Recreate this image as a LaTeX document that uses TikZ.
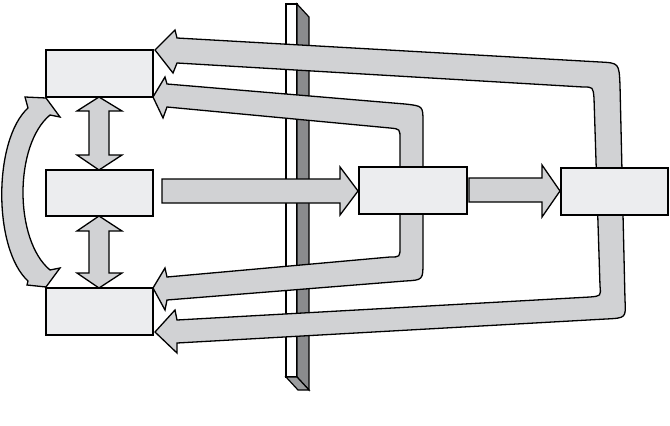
\documentclass[tikz,border=0pt]{standalone}
\begin{document}
\begin{tikzpicture}[x=1pt,y=-1pt,
  box/.style={draw=black,line width=1.8pt,fill=boxfill,inner sep=0pt,outer sep=0pt,minimum width=107pt,minimum height=47pt},
  band/.style={draw=black,line width=1.3pt,fill=arrowfill,line join=miter},
  plateline/.style={draw=black,line width=1.2pt,line join=miter}]
\definecolor{boxfill}{HTML}{ECEDEF}
\definecolor{arrowfill}{HTML}{D1D2D4}
\definecolor{plateside}{HTML}{8A8B8D}
\definecolor{platebottom}{HTML}{9C9D9F}
\useasboundingbox (0,0) rectangle (670,426);

% plate
\filldraw[plateline,fill=white] (286,4) rectangle (297,377);
\filldraw[plateline,fill=plateside] (297,4) -- (309,17) -- (309,390) -- (297,377) -- cycle;
\filldraw[plateline,fill=platebottom] (286,377) -- (297,377) -- (309,390) -- (298,390) -- cycle;

% outer loop
\draw[band] (177,38) -- (600,62) .. controls (619,63) .. (620,85) -- (625,300) .. controls (626,318) .. (606,319)
  -- (177,343) -- (177,353) -- (155,332) -- (175,310) -- (177,320)
  -- (590,297) .. controls (601,296) .. (600,286) -- (594,98) .. controls (593,87) .. (583,87)
  -- (177,63) -- (173,73) -- (155,50) -- (175,30) -- cycle;

% inner loop
\draw[band] (167,84) -- (405,104) .. controls (423,106) .. (423,122) -- (423,262) .. controls (423,280) .. (405,281)
  -- (167,300) -- (165,310) -- (153,288) -- (165,268) -- (167,277)
  -- (390,257) .. controls (400,257) .. (400,247) -- (400,139) .. controls (400,129) .. (390,128)
  -- (167,107) -- (163,118) -- (153,97) -- (165,77) -- cycle;

% boxes
\node[box] (tl) at (99.5,73.5) {};
\node[box,minimum height=46pt] (ml) at (99.5,193) {};
\node[box] (bl) at (99.5,311.5) {};
\node[box,minimum width=108pt] (mid) at (413,190.5) {};
\node[box] (rt) at (614.5,191.5) {};

% horizontal arrows
\draw[band] (162,179) -- (340,179) -- (340,167) -- (358,191) -- (340,215) -- (340,203) -- (162,203) -- cycle;
\draw[band] (469,178) -- (542,178) -- (542,165) -- (560,191) -- (542,217) -- (542,202) -- (469,202) -- cycle;

% vertical double arrows
\draw[band] (99,97) -- (122,111) -- (109,111) -- (109,155) -- (122,155) -- (99,170) -- (77,155) -- (89,155) -- (89,111) -- (77,111) -- cycle;
\draw[band] (99,216) -- (122,231) -- (109,231) -- (109,273) -- (122,273) -- (99,288) -- (77,273) -- (89,273) -- (89,231) -- (77,231) -- cycle;

% curved double arrow
\draw[band] (28,108) -- (25,97) -- (46,98) -- (60,117) -- (50,115)
  .. controls (14,145) and (14,240) .. (50,270)
  -- (60,268) -- (46,287) -- (27,285) -- (28,281)
  .. controls (-7,249) and (-7,140) .. (28,108) -- cycle;
\end{tikzpicture}
\end{document}
